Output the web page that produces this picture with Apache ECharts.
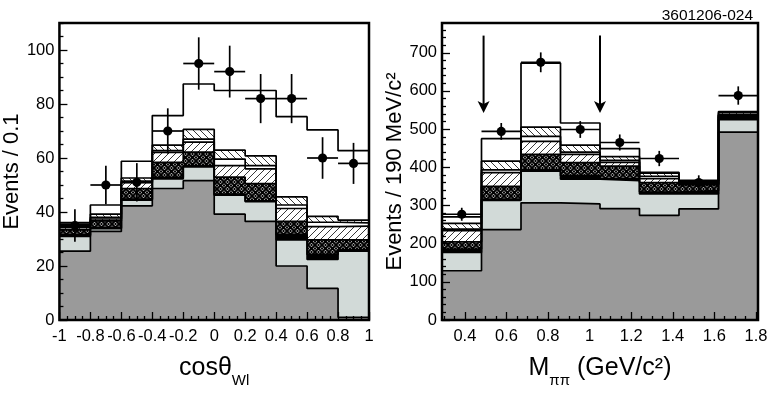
<!DOCTYPE html>
<html>
<head>
<meta charset="utf-8">
<script src="https://cdn.jsdelivr.net/npm/echarts@6/dist/echarts.min.js"></script>
<style>
  html, body { margin: 0; padding: 0; background: #fff; }
  #chart { width: 775px; height: 393px; }
</style>
</head>
<body>
<div id="chart"></div>
<script>
// bin edges
const leftEdges = [-1, -0.8, -0.6, -0.4, -0.2, 0, 0.2, 0.4, 0.6, 0.8, 1];
const rightEdges = [0.29, 0.48, 0.67, 0.86, 1.05, 1.24, 1.43, 1.62, 1.81];

// left panel, cumulative tops of each stacked component (bottom -> top)
const leftDark  = [25.5, 32.8, 42.3, 48.7, 51.6, 39.2, 36.5, 20.0, 11.7, 1.0];
const leftLight = [31.0, 33.8, 44.4, 52.3, 56.7, 46.2, 43.8, 29.7, 22.4, 25.5];
const leftBlack = [31.6, 34.2, 44.8, 52.8, 57.2, 46.6, 44.1, 31.6, 24.3, 26.1];
const leftCross = [33.4, 36.7, 48.7, 58.4, 62.2, 52.9, 50.5, 36.5, 29.7, 29.7];
const leftFwd   = [34.2, 37.4, 50.9, 62.1, 65.9, 57.2, 56.0, 41.3, 34.6, 34.8];
const leftGap   = [34.6, 38.0, 51.4, 62.7, 67.0, 59.6, 57.2, 42.6, 36.2, 36.0];
const leftBack  = [35.5, 39.2, 52.6, 64.8, 70.6, 62.9, 60.8, 45.6, 38.4, 37.0];
const leftTotal = [36.1, 42.6, 58.8, 75.7, 87.4, 85.0, 85.0, 75.3, 70.4, 62.7];
const leftData  = [35, 50, 51, 70, 95, 92, 82, 82, 60, 58];
const leftErr   = [6.0, 7.1, 7.1, 8.4, 9.7, 9.6, 9.1, 9.1, 7.7, 7.6];

// right panel
const rightDark  = [129, 237, 307, 304, 292, 274, 291, 492];
const rightLight = [177, 313, 390, 369, 365, 330, 330, 525];
const rightBlack = [186, 316, 393, 378, 370, 335, 339, 532];
const rightCross = [205, 350, 434, 412, 403, 360, 354, 535];
const rightFwd   = [234, 386, 468, 434, 413, 370, 356, 537];
const rightGap   = [238, 393, 481, 440, 418, 376, 358, 538];
const rightBack  = [253, 416, 505, 458, 428, 385, 364, 543];
const rightTotal = [270, 475, 673, 516, 449, 387, 366, 546];
const rightData  = [277, 494, 675, 499, 465, 423, 360, 588];
const rightErr   = [17, 22, 26, 22, 21, 20, 19, 24];

// arrows (x, from, to)
const arrowX = [0.49, 1.05];
const arrowFrom = 745;
const arrowTo = 542;

// ticks
const leftXTicks = [-1, -0.8, -0.6, -0.4, -0.2, 0, 0.2, 0.4, 0.6, 0.8, 1];
const leftYTicks = [0, 20, 40, 60, 80, 100];
const rightXTicks = [0.4, 0.6, 0.8, 1, 1.2, 1.4, 1.6, 1.8];
const rightYTicks = [0, 100, 200, 300, 400, 500, 600, 700];

function minors(from, to, step, majors) {
  const out = [];
  for (let i = 0; from + i * step <= to + 1e-9; i++) {
    const v = Math.round((from + i * step) * 1000) / 1000;
    if (!majors.some(m => Math.abs(m - v) < 1e-6)) out.push(v);
  }
  return out;
}
const leftXMinor = minors(-1, 1, 0.05, leftXTicks);
const leftYMinor = minors(0, 110, 5, leftYTicks);
const rightXMinor = minors(0.3, 1.8, 0.05, rightXTicks);
const rightYMinor = minors(0, 778, 20, rightYTicks);

const FONT = 'Liberation Sans, Arial, Helvetica, sans-serif';

function hatch(dir) {
  const n = 7;
  const c = document.createElement('canvas');
  c.width = n; c.height = n;
  const g = c.getContext('2d');
  g.fillStyle = '#fff';
  g.fillRect(0, 0, n, n);
  g.strokeStyle = '#222';
  g.lineWidth = 0.9;
  g.beginPath();
  for (const k of [-n, 0, n]) {
    if (dir > 0) { g.moveTo(k, n); g.lineTo(k + n, 0); }
    else { g.moveTo(k, 0); g.lineTo(k + n, n); }
  }
  g.stroke();
  return c;
}

// black mesh with white diamonds, each holding a black dot
function crossPattern() {
  const n = 7;
  const c = document.createElement('canvas');
  c.width = n; c.height = n;
  const g = c.getContext('2d');
  g.fillStyle = '#fff';
  g.fillRect(0, 0, n, n);
  g.strokeStyle = '#000';
  g.lineWidth = 2;
  g.beginPath();
  g.moveTo(-1, -1); g.lineTo(n + 1, n + 1);
  g.moveTo(n + 1, -1); g.lineTo(-1, n + 1);
  g.stroke();
  g.fillStyle = '#000';
  [[3.5, 0], [3.5, n], [0, 3.5], [n, 3.5]].forEach(([x, y]) => {
    g.beginPath(); g.arc(x, y, 1.2, 0, Math.PI * 2); g.fill();
  });
  return c;
}

const fwdFill = { image: hatch(1), repeat: 'repeat' };
const backFill = { image: hatch(-1), repeat: 'repeat' };
const crossFill = { image: crossPattern(), repeat: 'repeat' };

function stepSeries(edges, tops, fill, ax) {
  const pts = tops.map((v, i) => [edges[i], v]);
  pts.push([edges[edges.length - 1], tops[tops.length - 1]]);
  return {
    type: 'line', xAxisIndex: ax, yAxisIndex: ax, step: 'end', data: pts,
    symbol: 'none', silent: true, animation: false,
    lineStyle: { color: '#000', width: 1.7 },
    areaStyle: { color: fill, opacity: 1 }
  };
}

function pointSeries(edges, vals, errs, ax) {
  return {
    type: 'custom', xAxisIndex: ax, yAxisIndex: ax, silent: true, animation: false, z: 3,
    data: vals.map((v, i) => [edges[i], edges[i + 1], v, errs[i]]),
    renderItem(params, api) {
      const x0 = api.value(0), x1 = api.value(1), y = api.value(2), e = api.value(3);
      const xm = (x0 + x1) / 2;
      const c = api.coord([xm, y]), l = api.coord([x0, y]), r = api.coord([x1, y]);
      const t = api.coord([xm, y + e]), b = api.coord([xm, y - e]);
      const st = { stroke: '#000', lineWidth: 1.7 };
      return {
        type: 'group', children: [
          { type: 'line', shape: { x1: l[0], y1: l[1], x2: r[0], y2: r[1] }, style: st },
          { type: 'line', shape: { x1: t[0], y1: t[1], x2: b[0], y2: b[1] }, style: st },
          { type: 'circle', shape: { cx: c[0], cy: c[1], r: 4.6 }, style: { fill: '#000' } }
        ]
      };
    }
  };
}

function stack(edges, layers, ax) {
  const fills = ['#fff', backFill, '#fff', fwdFill, crossFill, '#000', '#d2dad8', '#9a9a9a'];
  return layers.map((arr, i) => stepSeries(edges, arr, fills[i], ax));
}

const tickStyle = { color: '#000', width: 1.3 };
const labelStyle = { fontFamily: FONT, fontSize: 16.5, color: '#000' };

function mainX(grid, min, max, ticks, name, gap) {
  return {
    gridIndex: grid, type: 'value', min, max, position: 'bottom', z: 6,
    axisLine: { show: false, onZero: false }, splitLine: { show: false },
    axisTick: { inside: true, length: 8, customValues: ticks, lineStyle: tickStyle },
    axisLabel: Object.assign({ customValues: ticks, margin: 8 }, labelStyle),
    name, nameLocation: 'middle', nameGap: gap,
    nameTextStyle: {
      fontFamily: FONT, color: '#000',
      rich: {
        m: { fontFamily: FONT, fontSize: 25, lineHeight: 26, verticalAlign: 'top', color: '#000' },
        s: { fontFamily: FONT, fontSize: 15, lineHeight: 15, verticalAlign: 'top', padding: [17, 0, 0, 0], color: '#000' }
      }
    }
  };
}
function minorX(grid, min, max, ticks) {
  return {
    gridIndex: grid, type: 'value', min, max, position: 'bottom', z: 6,
    axisLine: { show: false, onZero: false }, splitLine: { show: false }, axisLabel: { show: false },
    axisTick: { inside: true, length: 4, customValues: ticks, lineStyle: tickStyle }
  };
}
function mainY(grid, max, ticks, name, gap) {
  return {
    gridIndex: grid, type: 'value', min: 0, max, position: 'left', z: 6,
    axisLine: { show: false, onZero: false }, splitLine: { show: false },
    axisTick: { inside: true, length: 8, customValues: ticks, lineStyle: tickStyle },
    axisLabel: Object.assign({ customValues: ticks, margin: 5 }, labelStyle),
    name, nameLocation: 'middle', nameGap: gap, nameRotate: 90,
    nameTextStyle: { fontFamily: FONT, fontSize: 22, color: '#000' }
  };
}
function minorY(grid, max, ticks) {
  return {
    gridIndex: grid, type: 'value', min: 0, max, position: 'left', z: 6,
    axisLine: { show: false, onZero: false }, splitLine: { show: false }, axisLabel: { show: false },
    axisTick: { inside: true, length: 4, customValues: ticks, lineStyle: tickStyle }
  };
}

const chart = echarts.init(document.getElementById('chart'), null, { renderer: 'canvas' });

const arrowSeries = {
  type: 'custom', xAxisIndex: 2, yAxisIndex: 2, silent: true, animation: false, z: 3,
  data: arrowX.map(x => [x, arrowFrom, arrowTo]),
  renderItem(params, api) {
    const a = api.coord([api.value(0), api.value(1)]);
    const b = api.coord([api.value(0), api.value(2)]);
    return {
      type: 'group', children: [
        { type: 'line', shape: { x1: a[0], y1: a[1], x2: b[0], y2: b[1] - 8 }, style: { stroke: '#000', lineWidth: 2 } },
        { type: 'polygon', shape: { points: [[b[0], b[1]], [b[0] - 6, b[1] - 12], [b[0], b[1] - 9], [b[0] + 6, b[1] - 12]] }, style: { fill: '#000' } }
      ]
    };
  }
};

chart.setOption({
  animation: false,
  backgroundColor: '#fff',
  title: {
    text: '3601206-024', right: 17, top: 3,
    textStyle: { fontFamily: FONT, fontSize: 15.5, fontWeight: 'normal', color: '#000' }
  },
  grid: [
    { left: 52, top: 23, width: 317, height: 299, show: true, borderColor: '#000', borderWidth: 2.5, backgroundColor: 'transparent', z: 5 },
    { left: 442, top: 23, width: 316, height: 299, show: true, borderColor: '#000', borderWidth: 2.5, backgroundColor: 'transparent', z: 5 }
  ],
  xAxis: [
    mainX(0, -1, 1, leftXTicks, '{m|cosθ}{s|Wl}', 36),
    minorX(0, -1, 1, leftXMinor),
    mainX(1, 0.29, 1.81, rightXTicks, '{m|M}{s|ππ}{m| (GeV/c²)}', 36),
    minorX(1, 0.29, 1.81, rightXMinor)
  ],
  yAxis: [
    mainY(0, 110, leftYTicks, 'Events / 0.1', 30),
    minorY(0, 110, leftYMinor),
    mainY(1, 778, rightYTicks, 'Events / 190 MeV/c²', 36),
    minorY(1, 778, rightYMinor)
  ],
  series: [
    ...stack(leftEdges, [leftTotal, leftBack, leftGap, leftFwd, leftCross, leftBlack, leftLight, leftDark], 0),
    pointSeries(leftEdges, leftData, leftErr, 0),
    ...stack(rightEdges, [rightTotal, rightBack, rightGap, rightFwd, rightCross, rightBlack, rightLight, rightDark], 2),
    pointSeries(rightEdges, rightData, rightErr, 2),
    arrowSeries
  ]
});
</script>
</body>
</html>
